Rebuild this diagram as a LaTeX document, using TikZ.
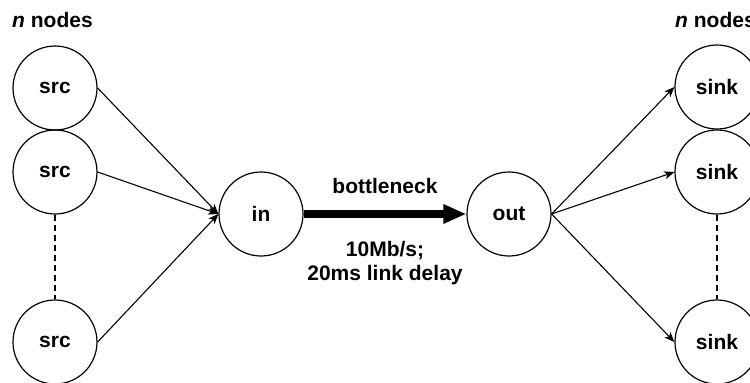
\documentclass[tikz,border=0pt]{standalone}
\usepackage{fontspec}
\setmainfont{Liberation Sans}
\usetikzlibrary{arrows.meta}
\begin{document}
\begin{tikzpicture}[x=1pt,y=-1pt,
  every node/.style={font=\fontsize{21}{25}\selectfont\bfseries},
  hostnode/.style={circle,draw,line width=1.2pt,minimum size=84pt,inner sep=0pt},
  flow/.style={line width=1.1pt,-{Stealth[length=10pt,width=8pt,inset=2.5pt]}},
  gap/.style={line width=1.1pt,dash pattern=on 6pt off 4pt},
  bottle/.style={line width=7.5pt,-{Triangle[length=23pt,width=18pt]}},
  lbl/.style={inner sep=0pt,anchor=base}]
\useasboundingbox (0,0) rectangle (750,383);

% sources
\node[hostnode] (s1) at (55,88) {src};
\node[hostnode] (s2) at (55,172) {src};
\node[hostnode] (s3) at (55,342) {src};
% sinks
\node[hostnode] (k1) at (717,87) {sink};
\node[hostnode] (k2) at (717,172) {sink};
\node[hostnode] (k3) at (717,342) {sink};
% routers
\node[hostnode] (in) at (261,214) {in};
\node[hostnode] (out) at (509,214) {out};

% group labels
\node[lbl,anchor=base west] (nl) at (12,27) {\itshape n\upshape\ nodes};
\node[lbl,anchor=base west] (nr) at (675,27) {\itshape n\upshape\ nodes};

% elided hosts
\draw[gap] (s2.south) -- (s3.north);
\draw[gap] (k2.south) -- (k3.north);

% access links
\foreach \s in {s1,s2,s3} \draw[flow] (\s.east) -- (in.west);
\foreach \k in {k1,k2,k3} \draw[flow] (out.east) -- (\k.west);

% bottleneck link
\draw[bottle] (in.east) -- (out.west);
\node[lbl] (bn) at (385,193) {bottleneck};
\node[lbl] (bw) at (385,256) {10Mb/s;};
\node[lbl] (dl) at (385,280) {20ms link delay};
\end{tikzpicture}
\end{document}
